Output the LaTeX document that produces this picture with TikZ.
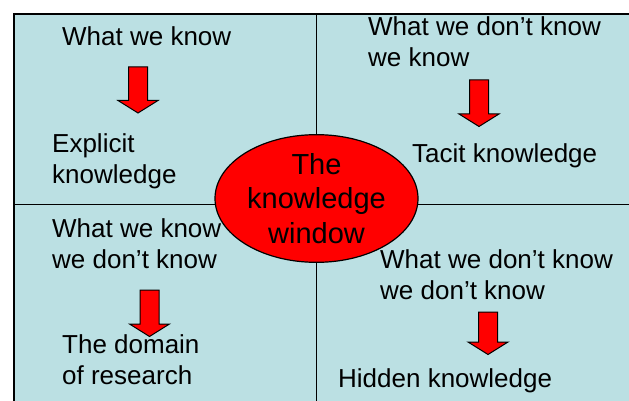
\documentclass[tikz,border=0pt]{standalone}
\usepackage{fontspec}
\setmainfont{Liberation Sans}
\definecolor{panelblue}{RGB}{187,224,227}
\definecolor{arrowred}{RGB}{255,0,0}
\tikzset{
  lbl/.style={anchor=north west, inner sep=0pt, align=left,
    font=\fontsize{26}{31}\selectfont, text=black},
  windowell/.style={ellipse, draw=black, line width=1.2pt, fill=arrowred,
    minimum width=203pt, minimum height=123pt, inner sep=0pt, align=center,
    font=\fontsize{29}{34.5}\selectfont},
  arrowfill/.style={draw=black, line width=1pt, fill=arrowred, line join=miter},
  pics/downarr/.style={code={
    \draw[arrowfill] (-9.5,0) -- (9.5,0) -- (9.5,#1) -- (20,#1) -- (0,#1+12.5)
      -- (-20,#1) -- (-9.5,#1) -- cycle;}},
}
\usetikzlibrary{shapes.geometric}
\begin{document}
\begin{tikzpicture}[x=1pt,y=-1pt]
\useasboundingbox (0,0) rectangle (629,401);
\clip (0,0) rectangle (629,401);
\fill[white] (0,0) rectangle (629,401);
% panel
\draw[fill=panelblue, line width=1.6pt] (14,14) rectangle (660,430);
% dividers
\draw[line width=0.9pt] (316.5,14) -- (316.5,430);
\draw[line width=0.9pt] (14,204) -- (660,204);
% central ellipse
\node[windowell] (win) at (316.5,198.5) {The\\knowledge\\window};
% labels
\node[lbl] (q1) at (62,26.4) {What we know};
\node[lbl] (a1) at (52,133.4) {Explicit\\knowledge};
\node[lbl] (q2) at (368,16.4) {What we don’t know\\we know};
\node[lbl] (a2) at (412,143.4) {Tacit knowledge};
\node[lbl] (q3) at (52,218.4) {What we know\\we don’t know};
\node[lbl] (a3) at (62,334.4) {The domain\\of research};
\node[lbl] (q4) at (380,249.4) {What we don’t know\\we don’t know};
\node[lbl] (a4) at (338,368.4) {Hidden knowledge};
% arrows
\pic at (138,67) {downarr=33.5};
\pic at (479,80) {downarr=34};
\pic at (149.5,290) {downarr=34};
\pic at (488,312) {downarr=30};
\end{tikzpicture}
\end{document}
